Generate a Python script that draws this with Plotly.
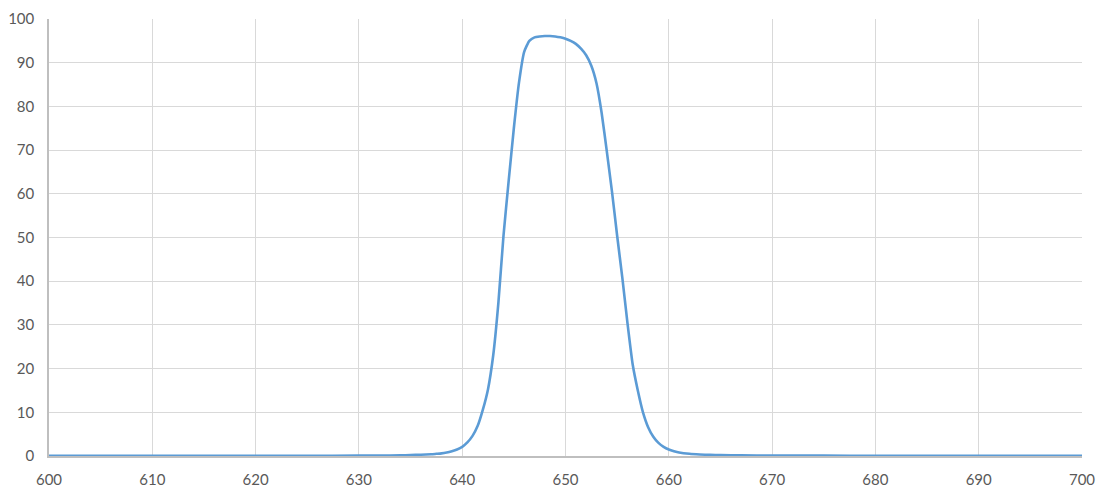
import plotly.graph_objects as go

# wavelength [nm] and transmission [%]
wavelength = [600, 605, 610, 615, 620, 625, 630, 632, 634, 635, 636, 637, 637.5,
              638, 638.5, 639, 639.5, 640, 640.5, 641, 641.5, 642, 642.5, 643,
              643.5, 644, 644.5, 645, 645.5, 646, 646.5, 647, 647.5, 648, 648.5,
              649, 649.5, 650, 650.5, 651, 651.5, 652, 652.5, 653, 653.5, 654,
              654.5, 655, 655.5, 656, 656.5, 657, 657.5, 658, 658.5, 659, 659.5,
              660, 660.5, 661, 662, 663, 664, 665, 667, 670, 675, 680, 685, 690,
              695, 700]
transmission = [0.05, 0.05, 0.05, 0.05, 0.05, 0.06, 0.08, 0.1, 0.15, 0.2, 0.3, 0.4, 0.5,
                0.6, 0.8, 1.1, 1.5, 2.1, 3.1, 4.6, 6.9, 10.6, 15.3, 23,
                35, 50.5, 63, 75, 85.5, 92.5, 95, 95.8, 96, 96.1, 96.1,
                96, 95.8, 95.5, 95, 94.3, 93.2, 91.7, 89.3, 85.3, 78.5, 69.7,
                60.5, 50.4, 40.8, 30.4, 21, 15, 10, 6.6, 4.4, 3.0, 2.1,
                1.5, 1.1, 0.8, 0.5, 0.35, 0.25, 0.2, 0.15, 0.1, 0.08, 0.06, 0.05, 0.05,
                0.05, 0.05]

fig = go.Figure()
fig.add_trace(go.Scatter(
    x=wavelength,
    y=transmission,
    mode='lines',
    line=dict(color='#5B9BD5', width=2.6, shape='spline', smoothing=0.5),
    showlegend=False
))

fig.update_xaxes(
    range=[600, 700],
    dtick=10,
    showgrid=True,
    gridcolor='#D9D9D9',
    gridwidth=1.3,
    zeroline=False,
    showline=True,
    linecolor='#BFBFBF',
    linewidth=1.5,
    ticks='',
    ticklabelstandoff=9,
    automargin=False,
    tickfont=dict(family='Lato', size=15, color='#595959')
)
fig.update_yaxes(
    range=[0, 100],
    dtick=10,
    showgrid=True,
    gridcolor='#D9D9D9',
    gridwidth=1.3,
    zeroline=False,
    showline=True,
    linecolor='#BFBFBF',
    linewidth=1.5,
    ticks='',
    ticklabelstandoff=10,
    automargin=False,
    tickfont=dict(family='Lato', size=15, color='#595959')
)

fig.update_layout(
    width=1098,
    height=491,
    margin=dict(l=49, r=16, t=19, b=35, autoexpand=False),
    plot_bgcolor='white',
    paper_bgcolor='white'
)

# page body has a default margin, drop it so the figure sits at 0,0
fig.write_html("out.html", config={'displayModeBar': False},
               post_script="document.body.style.margin='0px';")
